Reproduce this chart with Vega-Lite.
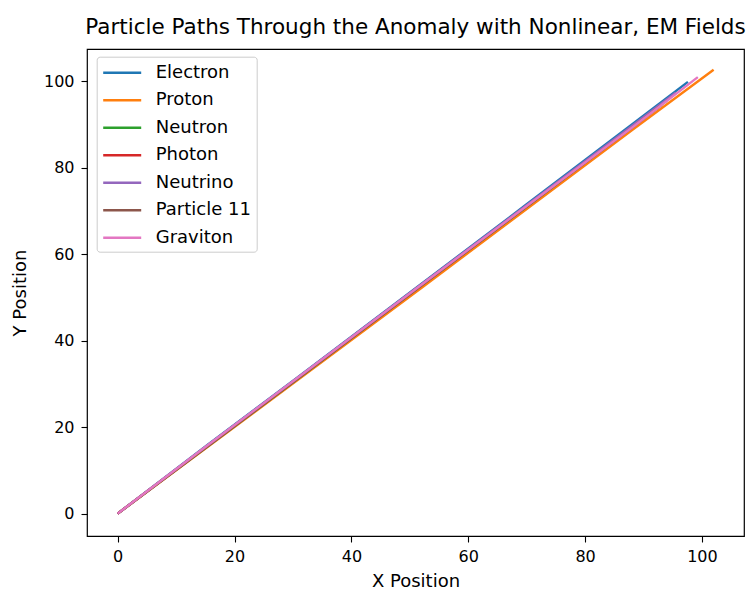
{
  "$schema": "https://vega.github.io/schema/vega-lite/v6.json",
  "autosize": "none",
  "width": 657,
  "height": 487,
  "padding": {"left": 87, "top": 49, "right": 10, "bottom": 56},
  "background": "white",
  "title": {"text": "Particle Paths Through the Anomaly with Nonlinear, EM Fields", "font": "DejaVu Sans", "fontSize": 21.5, "fontWeight": "normal", "color": "#000", "anchor": "middle", "offset": 11},
  "config": {
    "view": {"stroke": "#000", "strokeWidth": 1.2},
    "axis": {"labelFont": "DejaVu Sans", "titleFont": "DejaVu Sans", "labelFontSize": 16, "titleFontSize": 18, "titleFontWeight": "normal", "labelColor": "#000", "titleColor": "#000", "tickColor": "#000", "domainColor": "#000", "tickSize": 6, "tickWidth": 1.1, "grid": false, "domain": false}
  },
  "data": {"values": [
    {"p": "Electron", "x": 0, "y": 0}, {"p": "Electron", "x": 15.3, "y": 15.8}, {"p": "Electron", "x": 31, "y": 31.7}, {"p": "Electron", "x": 51.5, "y": 52.6}, {"p": "Electron", "x": 70, "y": 71.5}, {"p": "Electron", "x": 87, "y": 88.9}, {"p": "Electron", "x": 97.6, "y": 99.8},
    {"p": "Proton", "x": 0, "y": 0}, {"p": "Proton", "x": 15.6, "y": 15.6}, {"p": "Proton", "x": 32, "y": 32.1}, {"p": "Proton", "x": 52.2, "y": 52.4}, {"p": "Proton", "x": 70, "y": 70.4}, {"p": "Proton", "x": 88, "y": 88.6}, {"p": "Proton", "x": 102, "y": 102.6},
    {"p": "Neutron", "x": 0, "y": 0}, {"p": "Neutron", "x": 15.5, "y": 15.7}, {"p": "Neutron", "x": 32, "y": 32.4}, {"p": "Neutron", "x": 51.8, "y": 52.6}, {"p": "Neutron", "x": 70, "y": 71}, {"p": "Neutron", "x": 88, "y": 89.3}, {"p": "Neutron", "x": 94, "y": 95.5},
    {"p": "Photon", "x": 0, "y": 0}, {"p": "Photon", "x": 15.4, "y": 15.7}, {"p": "Photon", "x": 31.5, "y": 32}, {"p": "Photon", "x": 51.6, "y": 52.5}, {"p": "Photon", "x": 70, "y": 71.1}, {"p": "Photon", "x": 87.5, "y": 88.9}, {"p": "Photon", "x": 92, "y": 93.5},
    {"p": "Neutrino", "x": 0, "y": 0}, {"p": "Neutrino", "x": 15.3, "y": 15.7}, {"p": "Neutrino", "x": 31.2, "y": 31.8}, {"p": "Neutrino", "x": 51.4, "y": 52.4}, {"p": "Neutrino", "x": 70, "y": 71.3}, {"p": "Neutrino", "x": 87.4, "y": 89}, {"p": "Neutrino", "x": 95.5, "y": 97.3},
    {"p": "Particle 11", "x": 0, "y": 0}, {"p": "Particle 11", "x": 15.5, "y": 15.7}, {"p": "Particle 11", "x": 31.8, "y": 32.2}, {"p": "Particle 11", "x": 51.9, "y": 52.6}, {"p": "Particle 11", "x": 70, "y": 71}, {"p": "Particle 11", "x": 87.8, "y": 89}, {"p": "Particle 11", "x": 93, "y": 94.4},
    {"p": "Graviton", "x": 0, "y": 0}, {"p": "Graviton", "x": 15.4, "y": 15.8}, {"p": "Graviton", "x": 31.5, "y": 32.1}, {"p": "Graviton", "x": 51.7, "y": 52.6}, {"p": "Graviton", "x": 70, "y": 71.1}, {"p": "Graviton", "x": 88, "y": 89.2}, {"p": "Graviton", "x": 99.3, "y": 100.9}
  ]},
  "mark": {"type": "line", "clip": true},
  "encoding": {
    "x": {"field": "x", "type": "quantitative", "scale": {"domain": [-5.25, 107.2], "nice": false, "zero": false}, "axis": {"values": [0, 20, 40, 60, 80, 100], "title": "X Position", "labelPadding": 6, "titlePadding": 8}},
    "y": {"field": "y", "type": "quantitative", "scale": {"domain": [-5.18, 107.4], "nice": false, "zero": false}, "axis": {"values": [0, 20, 40, 60, 80, 100], "title": "Y Position", "labelPadding": 7, "titlePadding": 14}},
    "detail": {"field": "p"},
    "color": {"field": "p", "type": "nominal", "title": null,
      "scale": {"domain": ["Electron", "Proton", "Neutron", "Photon", "Neutrino", "Particle 11", "Graviton"], "range": ["#1f77b4", "#ff7f0e", "#2ca02c", "#d62728", "#9467bd", "#8c564b", "#e377c2"]},
      "legend": {"orient": "none", "legendX": 9.7, "legendY": 7.7, "symbolType": "M-1,0H3", "symbolSize": 361, "symbolStrokeWidth": 2.4, "rowPadding": 7.5, "labelOffset": 32, "labelFont": "DejaVu Sans", "labelFontSize": 18, "labelColor": "#000", "padding": 5, "strokeColor": "#cccccc", "cornerRadius": 3, "fillColor": "white"}},
    "strokeWidth": {"field": "p", "type": "nominal", "title": null,
      "scale": {"domain": ["Electron", "Proton", "Neutron", "Photon", "Neutrino", "Particle 11", "Graviton"], "range": [2.4, 2.4, 1.4, 2.4, 2.4, 2.4, 2.4]},
      "legend": null},
    "order": {"field": "x", "type": "quantitative"}
  }
}
